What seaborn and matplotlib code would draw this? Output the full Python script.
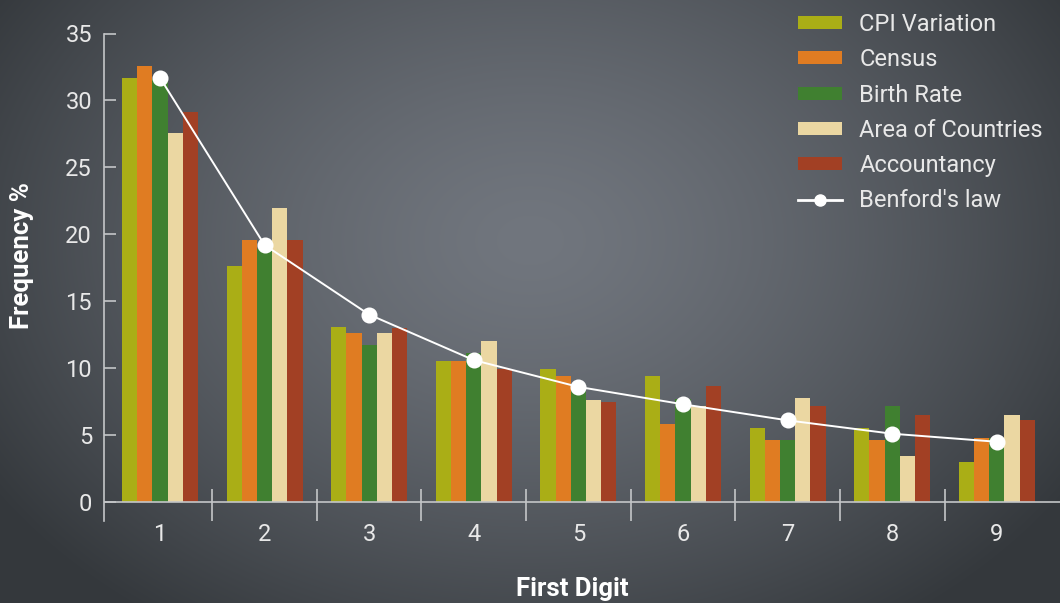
import numpy as np
import pandas as pd
import matplotlib
matplotlib.use("Agg")
import matplotlib.pyplot as plt
import seaborn as sns
from matplotlib.patches import Patch
from matplotlib.lines import Line2D

# ---------------- data ----------------
digits = ["1", "2", "3", "4", "5", "6", "7", "8", "9"]
cpi_variation = [31.7, 17.6, 13.1, 10.5, 9.9, 9.4, 5.5, 5.5, 3.0]
census = [32.6, 19.6, 12.6, 10.5, 9.4, 5.8, 4.6, 4.6, 4.8]
birth_rate = [31.6, 18.9, 11.7, 11.1, 8.7, 7.7, 4.6, 7.2, 4.8]
area_of_countries = [27.6, 22.0, 12.6, 12.0, 7.6, 7.2, 7.8, 3.4, 6.5]
accountancy = [29.1, 19.6, 13.0, 9.9, 7.5, 8.7, 7.2, 6.5, 6.1]
benford = [31.7, 19.2, 14.0, 10.6, 8.6, 7.3, 6.1, 5.1, 4.5]
series_names = ["CPI Variation", "Census", "Birth Rate", "Area of Countries", "Accountancy"]
series_values = [cpi_variation, census, birth_rate, area_of_countries, accountancy]
colors = ["#AAAE16", "#E07C22", "#408030", "#EBD7A2", "#A24024"]
y_ticks = [0, 5, 10, 15, 20, 25, 30, 35]

rows = []
for name, vals in zip(series_names, series_values):
    for d, v in zip(digits, vals):
        rows.append({"digit": d, "value": v, "series": name})
df = pd.DataFrame(rows)

plt.rcParams["font.family"] = ["Roboto", "DejaVu Sans"]
TXT = "#E8E8E8"
AX = "#C4C6C8"

fig = plt.figure(figsize=(10.6, 6.03), dpi=100)

# radial gradient background
bg = fig.add_axes([0, 0, 1, 1], zorder=-10)
W, H = 1060, 603
xx, yy = np.meshgrid(np.arange(W), np.arange(H))
r = np.sqrt(((xx - 530) / 640.0) ** 2 + ((yy - 240) / 470.0) ** 2)
r = np.clip(r, 0, 1) ** 1.4
c0 = np.array([113, 118, 126]) / 255.0
c1 = np.array([52, 56, 60]) / 255.0
img = c0[None, None, :] + (c1 - c0)[None, None, :] * r[..., None]
bg.imshow(img, extent=[0, 1, 0, 1], aspect="auto", origin="upper")
bg.axis("off")

ax = fig.add_axes([104 / W, (H - 521) / H, 1 - 104 / W, (521 - 33.5) / H])
ax.set_facecolor("none")

sns.barplot(data=df, x="digit", y="value", hue="series", order=digits,
            hue_order=series_names, palette=colors, width=0.727, saturation=1,
            errorbar=None, legend=False, linewidth=0, ax=ax)
sns.pointplot(x=digits, y=benford, color="white", markers="o", errorbar=None,
              markersize=10.5, linewidth=1.4, zorder=5, ax=ax)

ax.set_xlim(-0.535, 8.604)
ax.set_ylim(-1.42, 35)
ax.set_yticks(y_ticks)
ax.set_xlabel("")
ax.set_ylabel("")

for s in ["top", "right", "bottom"]:
    ax.spines[s].set_visible(False)
ax.spines["left"].set_color(AX)
ax.spines["left"].set_linewidth(1.2)
ax.axhline(0, color=AX, lw=1.2, zorder=3)
ax.vlines(np.arange(len(digits) - 1) + 0.5, -1.42, 0.97, color=AX, lw=1.2, zorder=3)

ax.tick_params(axis="y", direction="in", length=8.6, width=1.2, color=AX,
               labelsize=17, labelcolor=TXT, pad=8.6)
ax.tick_params(axis="x", length=0, labelsize=17, labelcolor=TXT, pad=1.5)

fig.text(22.5 / W, 1 - 255.5 / H, "Frequency %", rotation=90, ha="center", va="center",
         fontsize=18.5, fontweight="bold", color="white")
fig.text(572 / W, 1 - 589 / H, "First Digit", ha="center", va="center",
         fontsize=18.5, fontweight="bold", color="white")

handles = [Patch(facecolor=c, edgecolor="none", label=n) for c, n in zip(colors, series_names)]
handles.append(Line2D([0], [0], color="white", lw=2, marker="o", markersize=8,
                      label="Benford's law"))
fig.legend(handles=handles, loc="upper left", bbox_to_anchor=(798 / W, 1 - 13 / H),
           frameon=False, fontsize=17, labelcolor=TXT, handlelength=1.85,
           handleheight=0.48, handletextpad=0.75, labelspacing=0.52, borderpad=0,
           borderaxespad=0)

fig.savefig("out.png", dpi=100)
